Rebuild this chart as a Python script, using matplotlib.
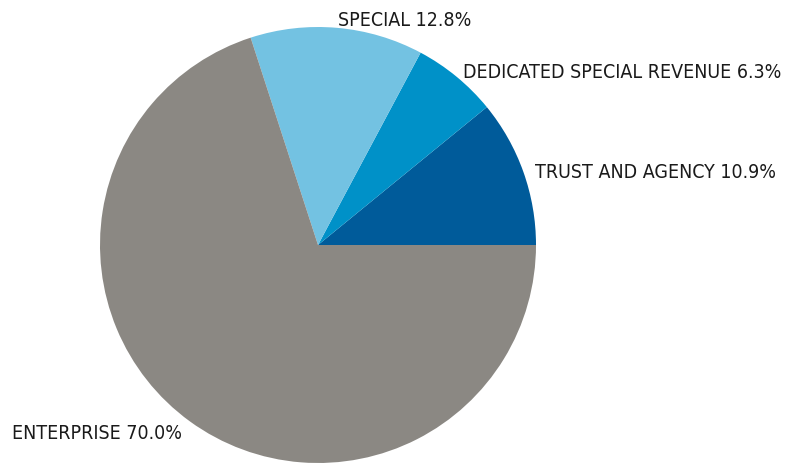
import matplotlib
matplotlib.use("Agg")
import matplotlib.pyplot as plt
from matplotlib import font_manager

categories = ["TRUST AND AGENCY", "DEDICATED SPECIAL REVENUE", "SPECIAL", "ENTERPRISE"]
shares = [10.9, 6.3, 12.8, 70.0]
colors = ["#005B9A", "#0091C8", "#73C2E2", "#8B8883"]

# label anchor points (pixels from top-left), left edge / vertical centre
label_pos = [(535, 172), (463, 73), (338, 20), (12, 434)]
target_width = 170  # width of "ENTERPRISE 70.0%" in px

W, H = 790, 464
stretch = "condensed"
names = {(f.name, f.stretch) for f in font_manager.fontManager.ttflist}
print(sorted(n for n in names if "DejaVu" in n[0] or "Liberation" in n[0]))
plt.rcParams["font.family"] = ["DejaVu Sans"]

fig = plt.figure(figsize=(W / 100, H / 100), dpi=100)
cx, cy, r = 318, 246, 218
ax = fig.add_axes([(cx - r) / W, (H - cy - r) / H, 2 * r / W, 2 * r / H])
ax.pie(shares, colors=colors, startangle=0, counterclock=True, radius=1,
       wedgeprops=dict(linewidth=0))
ax.set_xlim(-1, 1)
ax.set_ylim(-1, 1)
ax.set_aspect("equal")
ax.axis("off")

texts = []
for name, val, (px, py) in zip(categories, shares, label_pos):
    t = fig.text(px / W, 1 - py / H, f"{name} {val:.1f}%", ha="left", va="center",
                 fontsize=15, color="#1a1a1a", fontstretch=stretch)
    texts.append(t)

# scale font so label widths match the reference
renderer = fig.canvas.get_renderer()
w = texts[-1].get_window_extent(renderer).width
fs = 15 * target_width / w
for t in texts:
    t.set_fontsize(fs)

fig.savefig("out.png", dpi=100)
